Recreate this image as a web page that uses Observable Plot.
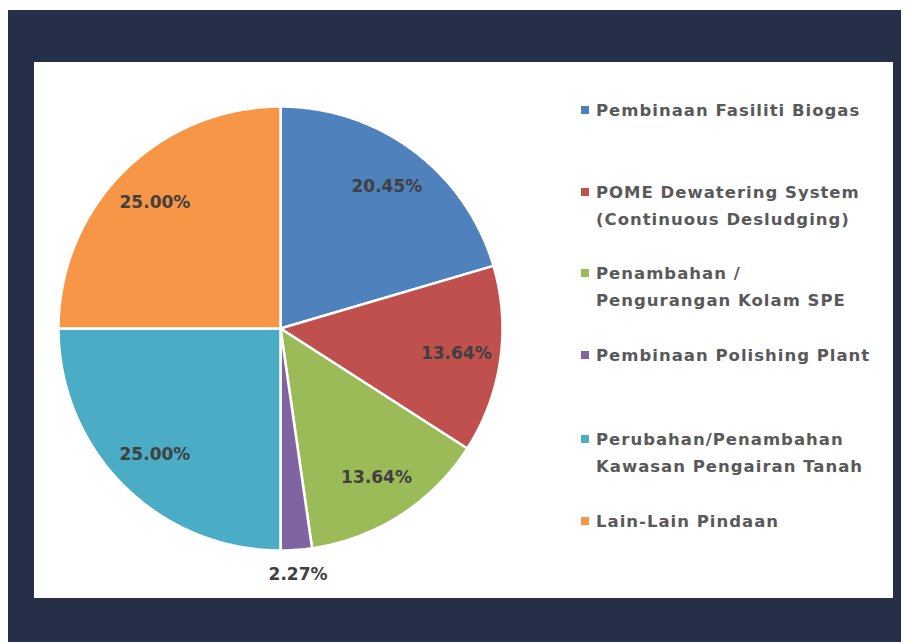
<!DOCTYPE html>
<html><head><meta charset="utf-8">
<script src="https://cdn.jsdelivr.net/npm/d3@7"></script>
<script src="https://cdn.jsdelivr.net/npm/@observablehq/plot@0.6"></script>
<style>
html,body{margin:0;padding:0;background:#fff;width:909px;height:642px;overflow:hidden;}
#dark{position:absolute;left:8px;top:10px;width:893px;height:632px;background:#262f48;}
#panel{position:absolute;left:34px;top:62px;width:859px;height:536px;background:#fff;}
#chart{position:absolute;left:0;top:0;}
#legend{position:absolute;left:0;top:0;font-family:"DejaVu Sans",sans-serif;font-weight:bold;font-size:16.5px;letter-spacing:1px;color:#595959;}
.item{position:absolute;left:596px;line-height:27px;white-space:nowrap;}
.sw{position:absolute;left:-15px;top:9px;width:8px;height:8px;}
</style></head><body>
<div id="dark"></div><div id="panel"></div>
<div id="chart"></div><div id="legend"></div>
<script>
const categories = ["Pembinaan Fasiliti Biogas","POME Dewatering System\n(Continuous Desludging)","Penambahan /\nPengurangan Kolam SPE","Pembinaan Polishing Plant","Perubahan/Penambahan\nKawasan Pengairan Tanah","Lain-Lain Pindaan"];
const values = [20.45, 13.64, 13.64, 2.27, 25.00, 25.00];
const colors = ["#4f81bd","#c0504d","#9bbb59","#8064a2","#4bacc6","#f79646"];
const legendTops = [97, 179, 260, 342, 426, 508];

const total = d3.sum(values);
const pts = [];
const labels = [];
let cum = 0;
values.forEach((v, i) => {
  const a0 = cum / total * 2 * Math.PI;
  cum += v;
  const a1 = cum / total * 2 * Math.PI;
  const n = Math.max(2, Math.ceil((a1 - a0) / (Math.PI / 360)));
  pts.push({k: i, x: 0, y: 0});
  for (let j = 0; j <= n; j++) {
    const a = a0 + (a1 - a0) * j / n;
    pts.push({k: i, x: Math.sin(a), y: Math.cos(a)});
  }
  pts.push({k: i, x: 0, y: 0});
  const am = (a0 + a1) / 2;
  const r = v < 5 ? 1.11 : 0.8;
  labels.push({x: r * Math.sin(am), y: r * Math.cos(am), t: v.toFixed(2) + "%"});
});

const plot = Plot.plot({
  width: 909, height: 642,
  margin: 0,
  style: {background: "transparent"},
  x: {domain: [-1, 1], range: [58, 502], axis: null},
  y: {domain: [-1, 1], range: [550, 106], axis: null},
  color: {domain: d3.range(values.length), range: colors},
  marks: [
    Plot.line(pts, {x: "x", y: "y", z: "k", fill: "k", stroke: "#fff", strokeWidth: 2.5, strokeLinejoin: "round", curve: "linear"}),
    Plot.text(labels, {x: "x", y: "y", text: "t", fill: "#404040", fontSize: 17, fontWeight: "bold", fontFamily: "DejaVu Sans", letterSpacing: 0.5})
  ]
});
document.getElementById("chart").appendChild(plot);

const lg = document.getElementById("legend");
categories.forEach((c, i) => {
  const d = document.createElement("div");
  d.className = "item";
  d.style.top = legendTops[i] + "px";
  d.innerHTML = `<span class="sw" style="background:${colors[i]}"></span>` + c.split("\n").join("<br>");
  lg.appendChild(d);
});
</script>
</body></html>
